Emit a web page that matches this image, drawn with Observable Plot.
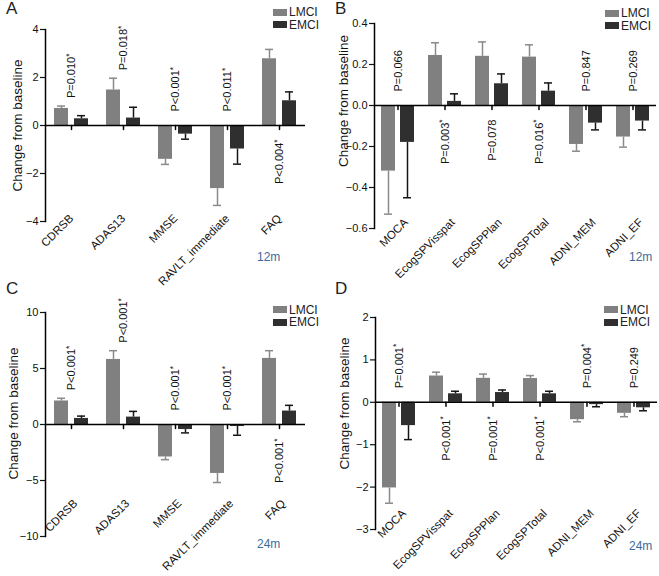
<!DOCTYPE html>
<html>
<head>
<meta charset="utf-8">
<script src="https://cdn.jsdelivr.net/npm/d3@7"></script>
<script src="https://cdn.jsdelivr.net/npm/@observablehq/plot@0.6"></script>
<style>
  body { margin: 0; background: #fff; font-family: "Liberation Sans", Arial, sans-serif; }
  #root { position: relative; width: 659px; height: 576px; overflow: hidden; background: #fff; }
  .panel { position: absolute; }
  .panel svg { overflow: visible; }
  .letter { position: absolute; font-size: 17px; line-height: 17px; color: #222; }
  .legend { position: absolute; font-size: 12px; color: #222; }
  .legend .row { display: flex; align-items: center; height: 12.5px; }
  .legend .sw { display: inline-block; width: 14px; height: 7px; margin-right: 2px; }
  .period { position: absolute; font-size: 12px; line-height: 14px; color: #3a6c9c; }
</style>
</head>
<body>
<div id="root"></div>
<script>
// ---------- data ----------
const groups = ["LMCI", "EMCI"];
const groupColors = ["#808080", "#2f2f2f"];
const errColors = ["#8a8a8a", "#151515"];
const yLabel = "Change from baseline";

// Panel A: clinical scores, 12 months
const catsA = ["CDRSB", "ADAS13", "MMSE", "RAVLT_immediate", "FAQ"];
const lmciA = [0.71, 1.48, -1.41, -2.63, 2.78];
const lmciErrA = [0.10, 0.49, 0.21, 0.70, 0.39];
const emciA = [0.28, 0.31, -0.36, -0.98, 1.03];
const emciErrA = [0.13, 0.45, 0.21, 0.63, 0.37];
const pA = ["P=0.010*", "P=0.018*", "P<0.001*", "P<0.011*", "P<0.004*"];
const pSideA = ["above", "above", "above", "above", "below"];
const yTicksA = [-4, -2, 0, 2, 4];

// Panel B: ECog / ADNI composites, 12 months
const catsB = ["MOCA", "EcogSPVisspat", "EcogSPPlan", "EcogSPTotal", "ADNI_MEM", "ADNI_EF"];
const lmciB = [-0.32, 0.244, 0.24, 0.236, -0.19, -0.154];
const lmciErrB = [0.21, 0.062, 0.07, 0.06, 0.033, 0.049];
const emciB = [-0.18, 0.02, 0.106, 0.07, -0.086, -0.076];
const emciErrB = [0.27, 0.037, 0.048, 0.04, 0.033, 0.043];
const pB = ["P=0.066", "P=0.003*", "P=0.078", "P=0.016*", "P=0.847", "P=0.269"];
const pSideB = ["above", "below", "below", "below", "above", "above"];
const yTicksB = [-0.6, -0.4, -0.2, 0, 0.2, 0.4];

// Panel C: clinical scores, 24 months
const catsC = ["CDRSB", "ADAS13", "MMSE", "RAVLT_immediate", "FAQ"];
const lmciC = [2.1, 5.81, -2.9, -4.37, 5.9];
const lmciErrC = [0.24, 0.78, 0.24, 0.81, 0.69];
const emciC = [0.54, 0.66, -0.45, -0.18, 1.2];
const emciErrC = [0.21, 0.51, 0.30, 0.78, 0.51];
const pC = ["P<0.001*", "P<0.001*", "P<0.001*", "P<0.001*", "P<0.001*"];
const pSideC = ["above", "above", "above", "above", "below"];
const yTicksC = [-10, -5, 0, 5, 10];

// Panel D: ECog / ADNI composites, 24 months
const catsD = ["MOCA", "EcogSPVisspat", "EcogSPPlan", "EcogSPTotal", "ADNI_MEM", "ADNI_EF"];
const lmciD = [-2.02, 0.62, 0.565, 0.56, -0.41, -0.26];
const lmciErrD = [0.36, 0.09, 0.10, 0.07, 0.05, 0.08];
const emciD = [-0.55, 0.2, 0.23, 0.2, -0.055, -0.13];
const emciErrD = [0.33, 0.06, 0.06, 0.06, 0.05, 0.07];
const pD = ["P=0.001*", "P<0.001*", "P=0.001*", "P<0.001*", "P=0.004*", "P=0.249"];
const pSideD = ["above", "below", "below", "below", "above", "above"];
const yTicksD = [-3, -2, -1, 0, 1, 2];

// ---------- drawing ----------
const root = document.getElementById("root");
const FONT = "'Liberation Sans', Arial, Helvetica, sans-serif";
const tickShape = {draw(context, l) { context.moveTo(0, 0); context.lineTo(0, -l); }};

function drawPanel(cfg) {
  const rows = [];
  cfg.cats.forEach((c, i) => {
    rows.push({cat: c, group: groups[0], value: cfg.lmci[i], err: cfg.lmciErr[i]});
    rows.push({cat: c, group: groups[1], value: cfg.emci[i], err: cfg.emciErr[i]});
  });
  rows.forEach(r => { r.end = r.value + Math.sign(r.value) * r.err; });
  const labels = cfg.cats.map((c, i) => {
    const ends = rows.filter(r => r.cat === c).map(r => r.end);
    const above = cfg.pSide[i] === "above";
    const y = above ? Math.max(0, ...ends) : Math.min(0, ...ends);
    return {cat: c, text: cfg.p[i], y, kind: above ? (y > 0 ? "aboveBar" : "aboveZero") : "below"};
  });
  const lab = k => labels.filter(d => d.kind === k);
  const g = k => rows.filter(r => r.group === groups[k]);

  const plot = Plot.plot({
    width: cfg.width,
    height: cfg.height,
    marginTop: cfg.mt, marginBottom: cfg.mb, marginLeft: cfg.ml, marginRight: cfg.mr,
    style: {fontFamily: FONT, fontSize: "11px", color: "#111", background: "none", overflow: "visible"},
    fx: {domain: cfg.cats, padding: 0, label: null, axis: null},
    x: {domain: groups, paddingInner: cfg.pi, paddingOuter: cfg.po, axis: null},
    y: {domain: [cfg.yTicks[0], cfg.yTicks[cfg.yTicks.length - 1]], label: null},
    color: {domain: groups, range: groupColors},
    marks: [
      Plot.barY(rows, {fx: "cat", x: "group", y: "value", fill: "group"}),
      Plot.ruleX(g(0), {fx: "cat", x: "group", y1: "value", y2: "end", stroke: errColors[0], strokeWidth: 1.5}),
      Plot.ruleX(g(1), {fx: "cat", x: "group", y1: "value", y2: "end", stroke: errColors[1], strokeWidth: 1.5}),
      Plot.tickY(g(0), {fx: "cat", x: "group", y: "end", stroke: errColors[0], strokeWidth: 1.5, inset: 3}),
      Plot.tickY(g(1), {fx: "cat", x: "group", y: "end", stroke: errColors[1], strokeWidth: 1.5, inset: 3}),
      Plot.ruleY([0], {stroke: "#000", strokeWidth: 1.5}),
      Plot.vector(cfg.cats, {fx: d => d, y: () => 0, length: 4, rotate: 180, anchor: "start", shape: tickShape, stroke: "#000", strokeWidth: 1.5}),
      Plot.frame({anchor: "left", facetAnchor: "left", stroke: "#000", strokeWidth: 1.5}),
      Plot.axisY({ticks: cfg.yTicks, tickFormat: d3.format(cfg.fmt), tickSize: 5, tickPadding: 2, label: null, fontSize: 11, strokeWidth: 1.2}),
      // category labels, rotated 45°
      Plot.text(cfg.cats, {fx: d => d, text: d => d, frameAnchor: "bottom", rotate: -45, textAnchor: "end", lineAnchor: "middle", dx: cfg.lx, dy: cfg.ly, fontSize: 11.5}),
      // y axis title
      Plot.text([yLabel], {fx: () => cfg.cats[0], frameAnchor: "left", rotate: -90, textAnchor: "middle", lineAnchor: "middle", dx: cfg.yLabDx, dy: cfg.yLabDy, fontSize: 13.5}),
      // p-values
      Plot.text(lab("aboveBar"), {fx: "cat", y: "y", text: "text", rotate: -90, textAnchor: "start", lineAnchor: "middle", dy: -8, fontSize: 11}),
      Plot.text(lab("aboveZero"), {fx: "cat", y: "y", text: "text", rotate: -90, textAnchor: "start", lineAnchor: "middle", dy: -14, fontSize: 11}),
      Plot.text(lab("below"), {fx: "cat", y: "y", text: "text", rotate: -90, textAnchor: "end", lineAnchor: "middle", dy: 14, fontSize: 11})
    ]
  });

  // superscript asterisks on significant p-values
  d3.select(plot).selectAll("text").each(function() {
    const t = this.textContent;
    if (this.childElementCount === 0 && t.startsWith("P") && t.endsWith("*")) {
      this.textContent = t.slice(0, -1);
      d3.select(this).append("tspan").attr("dy", "-0.4em").attr("font-size", "0.75em").text("*");
    }
  });

  const wrap = document.createElement("div");
  wrap.className = "panel";
  wrap.style.left = cfg.left + "px";
  wrap.style.top = cfg.top + "px";
  wrap.appendChild(plot);
  root.appendChild(wrap);

  const letter = document.createElement("div");
  letter.className = "letter";
  letter.textContent = cfg.letter;
  letter.style.left = cfg.letterPos[0] + "px";
  letter.style.top = cfg.letterPos[1] + "px";
  root.appendChild(letter);

  const colorScale = plot.scale("color");
  const legend = document.createElement("div");
  legend.className = "legend";
  legend.style.left = cfg.legendPos[0] + "px";
  legend.style.top = cfg.legendPos[1] + "px";
  colorScale.domain.forEach((name, i) => {
    const row = document.createElement("div");
    row.className = "row";
    const sw = document.createElement("span");
    sw.className = "sw";
    sw.style.background = colorScale.range[i];
    row.appendChild(sw);
    row.appendChild(document.createTextNode(name));
    legend.appendChild(row);
  });
  root.appendChild(legend);

  const period = document.createElement("div");
  period.className = "period";
  period.textContent = cfg.period;
  period.style.left = cfg.periodPos[0] + "px";
  period.style.top = cfg.periodPos[1] + "px";
  root.appendChild(period);
}

drawPanel({
  letter: "A", period: "12m", cats: catsA, lmci: lmciA, lmciErr: lmciErrA, emci: emciA, emciErr: emciErrA,
  p: pA, pSide: pSideA, yTicks: yTicksA, fmt: "d",
  left: 0, top: 0, width: 329, height: 290, mt: 29, mb: 69, ml: 43, mr: 23, pi: 0.3, po: 0.45,
  lx: 0, ly: -5, yLabDx: -28, yLabDy: 0,
  letterPos: [6, 0], legendPos: [273, 6], periodPos: [257, 250]
});
drawPanel({
  letter: "B", period: "12m", cats: catsB, lmci: lmciB, lmciErr: lmciErrB, emci: emciB, emciErr: emciErrB,
  p: pB, pSide: pSideB, yTicks: yTicksB, fmt: ".1f",
  left: 329, top: 0, width: 330, height: 290, mt: 23, mb: 62, ml: 44, mr: 2, pi: 0.27, po: 0.37,
  lx: 8, ly: -8, yLabDx: -31, yLabDy: -25,
  letterPos: [335, 0], legendPos: [605, 7], periodPos: [629, 250]
});
drawPanel({
  letter: "C", period: "24m", cats: catsC, lmci: lmciC, lmciErr: lmciErrC, emci: emciC, emciErr: emciErrC,
  p: pC, pSide: pSideC, yTicks: yTicksC, fmt: "d",
  left: 0, top: 280, width: 329, height: 296, mt: 32, mb: 40, ml: 43, mr: 23, pi: 0.3, po: 0.45,
  lx: 4, ly: -35, yLabDx: -32, yLabDy: -11,
  letterPos: [6, 280], legendPos: [273, 303.5], periodPos: [257, 537]
});
drawPanel({
  letter: "D", period: "24m", cats: catsD, lmci: lmciD, lmciErr: lmciErrD, emci: emciD, emciErr: emciErrD,
  p: pD, pSide: pSideD, yTicks: yTicksD, fmt: "d",
  left: 329, top: 280, width: 330, height: 296, mt: 37, mb: 47, ml: 44, mr: 1, pi: 0.27, po: 0.37,
  lx: 5, ly: -18, yLabDx: -31, yLabDy: -20,
  letterPos: [335, 280], legendPos: [604, 303.5], periodPos: [629, 539]
});
</script>
</body>
</html>
